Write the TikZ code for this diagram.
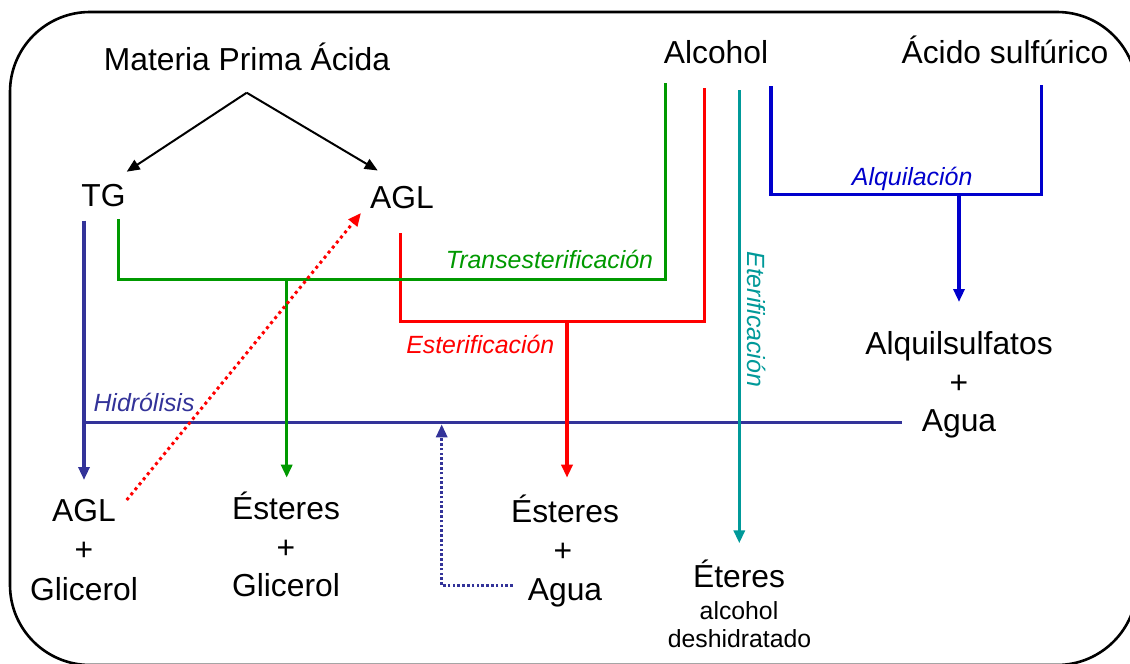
\documentclass[tikz,border=0pt]{standalone}
\usepackage{fontspec}
\setmainfont{Liberation Sans}
\usetikzlibrary{arrows.meta}
\definecolor{hydro}{RGB}{51,51,153}
\definecolor{trans}{RGB}{0,153,0}
\definecolor{ester}{RGB}{255,0,0}
\definecolor{ether}{RGB}{0,153,153}
\definecolor{alkyl}{RGB}{0,0,204}
\begin{document}
\begin{tikzpicture}[x=1pt,y=-1pt,
  txt/.style={anchor=base, inner sep=0pt, font=\fontsize{31.8}{38}\selectfont},
  smalltxt/.style={anchor=base, inner sep=0pt, font=\fontsize{24.8}{29}\selectfont},
  lbl/.style={anchor=base, inner sep=0pt, font=\fontsize{24.9}{29}\selectfont\itshape},
  route/.style={line width=3.2pt},
  tip/.style={-{Triangle[length=13pt,width=11pt]}},
  dotline/.style={line width=3pt, dash pattern=on 3pt off 3.5pt},
  fineline/.style={line width=3pt, dash pattern=on 2.5pt off 2.3pt},
]
\useasboundingbox (0,0) rectangle (1130,664);
\clip (0,0) rectangle (1130,664);

% frame
\draw[line width=2.6pt, rounded corners=80pt] (10,12) rectangle (1137,665);

% raw materials
\node[txt] (mpa) at (247,70)    {Materia Prima Ácida};
\node[txt] (tg)  at (103.5,206.7) {TG};
\node[txt] (agl) at (402,208.3) {AGL};
\node[txt] (alc) at (716,63.3)  {Alcohol};
\node[txt] (acs) at (1005,63.3) {Ácido sulfúrico};

% products
\node[txt] (p1a) at (84,521.7) {AGL};
\node[txt] (p1b) at (84,560.9) {+};
\node[txt] (p1c) at (84,600)   {Glicerol};

\node[txt] (p2a) at (286,519.3) {Ésteres};
\node[txt] (p2b) at (286,558)   {+};
\node[txt] (p2c) at (286,596.7) {Glicerol};

\node[txt] (p3a) at (565,522.7) {Ésteres};
\node[txt] (p3b) at (563,561.3) {+};
\node[txt] (p3c) at (565,600)   {Agua};

\node[txt]      (p4a) at (739,587.3)   {Éteres};
\node[smalltxt] (p4b) at (739,619.3)   {alcohol};
\node[smalltxt] (p4c) at (739.5,647.7) {deshidratado};

\node[txt] (p5a) at (959,354.3) {Alquilsulfatos};
\node[txt] (p5b) at (959,393)   {+};
\node[txt] (p5c) at (959,431.7) {Agua};

% route end points
\coordinate (apex)  at (246.7,92.7);
\coordinate (tgin)  at (126.7,171.7);
\coordinate (aglin) at (377.7,170.5);

\coordinate (hydTop)  at (84,220.7);
\coordinate (hydEnd)  at (84,480);
\coordinate (hydL)    at (84,422.3);
\coordinate (hydR)    at (901.7,422.3);

\coordinate (trTG)    at (118.5,219);
\coordinate (trAlc)   at (665.3,82.7);
\coordinate (trCorner) at (665.3,279.3);
\coordinate (trDrop)  at (286.7,279.3);
\coordinate (trEnd)   at (286.7,477.7);

\coordinate (esAGL)   at (400.7,233.3);
\coordinate (esAlc)   at (704.3,88);
\coordinate (esCorner) at (704.3,321.7);
\coordinate (esDrop)  at (567,321.7);
\coordinate (esEnd)   at (567,477.7);

\coordinate (etAlc)   at (739.3,90);
\coordinate (etEnd)   at (739.3,543.3);

\coordinate (alAlc)   at (771,86);
\coordinate (alAcid)  at (1041.7,85);
\coordinate (alCorner) at (1041.7,194.3);
\coordinate (alDrop)  at (959,194.3);
\coordinate (alEnd)   at (959,302);

\coordinate (recStart) at (126.7,500);
\coordinate (recEnd)   at (361,213);
\coordinate (wStart)   at (512.7,585.7);
\coordinate (wEnd)     at (441.7,424.3);

% feedstock split
\draw[line width=2pt, tip] (apex) -- (tgin);
\draw[line width=2pt, tip] (apex) -- (aglin);

% hydrolysis
\draw[route, hydro] (hydL) -- (hydR);
\draw[route, hydro, tip] (hydTop) -- (hydEnd);
\node[lbl, hydro] (hydlbl) at (144,411.7) {Hidrólisis};

% esterification
\draw[route, ester] (esAGL) |- (esCorner) -- (esAlc);
\draw[route, ester, tip] (esDrop) -- (esEnd);
\node[lbl, ester] (eslbl) at (480.3,353.3) {Esterificación};

% transesterification
\draw[route, trans] (trTG) |- (trCorner) -- (trAlc);
\draw[route, trans, tip] (trDrop) -- (trEnd);
\node[lbl, trans] (trlbl) at (549.5,268.3) {Transesterificación};

% etherification
\draw[route, ether, tip] (etAlc) -- (etEnd);
\node[lbl, ether, rotate=-90] (etlbl) at (747.5,319.2) {Eterificación};

% alkylation
\draw[route, alkyl] (alAlc) |- (alCorner) -- (alAcid);
\draw[route, alkyl, tip] (alDrop) -- (alEnd);
\node[lbl, alkyl] (allbl) at (912.2,185) {Alquilación};

% recycles
\draw[dotline, ester, tip] (recStart) -- (recEnd);
\draw[fineline, hydro, tip] (wStart) -| (wEnd);
\end{tikzpicture}
\end{document}
